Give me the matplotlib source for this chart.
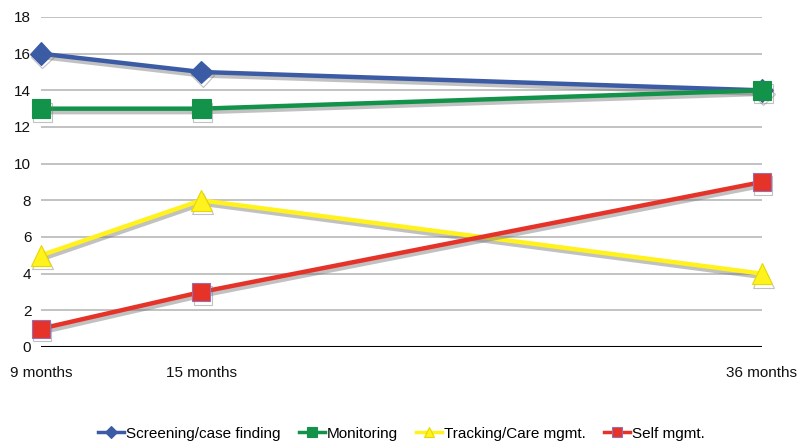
import matplotlib
matplotlib.use("Agg")
import matplotlib.pyplot as plt
import matplotlib.patheffects as pe

plt.rcParams['font.family'] = ['Liberation Sans', 'DejaVu Sans']

months = [9, 15, 36]
tick_labels = ["9 months", "15 months", "36 months"]
screening = [16, 15, 14]
monitoring = [13, 13, 14]
tracking = [5, 8, 4]
selfmgmt = [1, 3, 9]

fig = plt.figure(figsize=(7.98, 4.42), dpi=100)
ax = fig.add_axes([41/798, 1-347/442, (762-41)/798, (347-17)/442])

ax.set_xlim(9, 36)
ax.set_ylim(0, 18)
ax.set_yticks(range(0, 19, 2))
ax.set_xticks(months)
ax.set_xticklabels(tick_labels)
for s in ax.spines.values():
    s.set_visible(False)
ax.tick_params(length=0, labelsize=11, colors="#111111")
ax.tick_params(axis="y", pad=7)
ax.tick_params(axis="x", pad=14)
for lab in ax.get_xticklabels():
    lab.set_clip_on(False)
ax.grid(axis="y", color="#b8b8b8", linewidth=1.2)
ax.set_axisbelow(True)
ax.axhline(0, color="black", linewidth=2.2, zorder=1)

shadow = [pe.SimpleLineShadow(offset=(1, -2.5), shadow_color="#777777", alpha=0.45), pe.Normal()]

series = [
    (screening, "Screening/case finding", "#3b5ba5", "D", 11.5, "#3b5ba5"),
    (monitoring, "Monitoring", "#13924a", "s", 13.5, "#13924a"),
    (tracking, "Tracking/Care mgmt.", "#fff21d", "^", 15, "#e6d800"),
    (selfmgmt, "Self mgmt.", "#e5332a", "s", 13, "#9a6fb0"),
]
for vals, label, color, marker, ms, mec in series:
    ax.plot(months, vals, color=color, linewidth=3.2, marker=marker, markersize=ms,
            markeredgecolor=mec, markeredgewidth=0.8, label=label, clip_on=False,
            path_effects=shadow, zorder=3)

leg = ax.legend(loc="upper center", bbox_to_anchor=(0.5, -0.2), ncol=4, frameon=False,
                fontsize=11, handlelength=1.7, handletextpad=0.13, columnspacing=1.2,
                markerscale=0.5)
for h in leg.legend_handles:
    h.set_path_effects([])
    h.set_linewidth(2.5)

fig.savefig("out.png", dpi=100)
